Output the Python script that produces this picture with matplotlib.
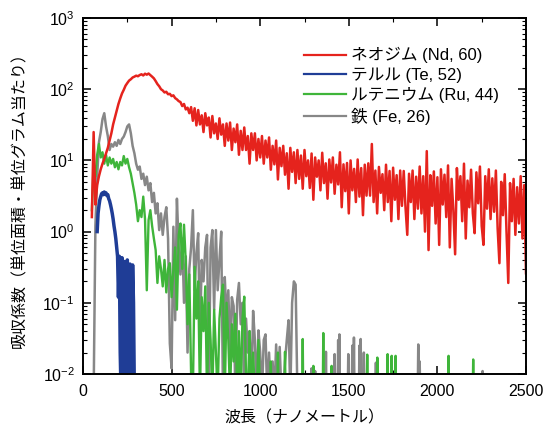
import numpy as np
import matplotlib
matplotlib.use('Agg')
import matplotlib.pyplot as plt
from matplotlib.ticker import MultipleLocator, LogLocator, NullFormatter

plt.rcParams['font.family'] = ['Liberation Sans', 'Noto Sans CJK JP']

# values, absorption coefficient vs wavelength (nm)
nd_nm = np.arange(50, 2501, 10)
nd_val = [1.6, 25, 2.4, 4.5, 6, 7.5, 9, 10.5, 12.5, 15,
          19, 24, 32, 40, 50, 62, 74, 87, 98, 112,
          122, 132, 138, 146, 150, 155, 152, 158, 162, 156,
          165, 160, 166, 158, 150, 142, 130, 118, 110, 100,
          96, 90, 92, 85, 86, 80, 82, 75, 72, 68,
          66, 58, 62, 52, 55, 46, 56, 36, 54, 31,
          51, 32, 43, 25, 46, 31, 40, 21, 42, 24,
          33, 20, 39, 23, 32, 16, 33, 19, 34, 14,
          28, 18, 32, 12, 26, 14, 29, 14, 22, 9,
          24, 14, 24, 10, 20, 11, 22, 9, 19, 11,
          21, 7.4, 16, 8.8, 19, 5.4, 15, 8.3, 16, 6.3,
          12.6, 4, 15, 6.9, 13, 4.8, 14, 5.5, 11.7, 4,
          14, 6, 10, 4.1, 12.5, 2.8, 11, 5.9, 10, 3.8,
          12.8, 4.8, 9.1, 2.9, 10.3, 4.9, 11, 3.4, 8.7, 4.6,
          13, 2.2, 8.8, 3.7, 9.2, 1.8, 10, 3.8, 7.6, 2.6,
          10.3, 3.1, 7.8, 1.7, 8.7, 3.2, 9.1, 3.2, 17, 2.6,
          7.2, 1.8, 8.1, 3.5, 6.4, 2.0, 8.7, 2.6, 7.1, 1.4,
          7.9, 2.8, 6.2, 1.5, 7.2, 2.3, 7.1, 2.2, 0.9, 6.5,
          2.6, 7.2, 1.5, 5.9, 2.1, 8.2, 1.8, 6.0, 1.0, 13.5,
          0.55, 6.2, 2.3, 7.0, 1.3, 5.8, 0.65, 7.5, 2.4, 6.3,
          1.6, 8.5, 0.6, 5.5, 2.0, 0.48, 7.8, 2.8, 6.0, 1.4,
          9.0, 0.8, 5.2, 2.2, 7.4, 1.8, 0.95, 6.8, 2.5, 8.2,
          1.2, 0.65, 6.0, 2.1, 7.5, 1.5, 5.6, 1.9, 7.2, 1.1,
          0.36, 5.0, 1.7, 6.4, 1.0, 0.19, 4.8, 1.4, 5.5, 0.9,
          4.2, 1.3, 6.0, 0.8, 4.5, 0.26]

te_nm = np.arange(80, 291, 5)
te_val = [1.0, 1.8, 2.3, 2.8, 3.1, 3.4, 3.5, 3.3, 3.6, 3.4,
          3.5, 3.2, 3.3, 2.9, 2.7, 2.4, 2.1, 1.8, 1.5, 1.2,
          1.0, 0.8, 0.6, 0.45, 0.12, 0.45, 0.02, 0.005, 0.43, 0.1,
          0.005, 0.38, 0.2, 0.005, 0.4, 0.05, 0.005, 0.35, 0.12, 0.005,
          0.34, 0.1, 0.005]

ru_nm = np.arange(50, 1001, 10)
ru_val = [2.0, 9, 6, 12, 17, 11, 13, 9, 12, 8.5,
          11, 9, 10.5, 8, 9.5, 7.5, 9.5, 8.5, 11.5, 9,
          10.5, 8, 6.5, 4.8, 3.5, 2.4, 1.4, 2.0, 1.6, 3.1,
          1.5, 0.15, 1.45, 2.0, 1.2, 0.8, 0.55, 0.19, 0.45, 0.3,
          0.17, 0.4, 0.14, 0.3, 0.36, 0.12, 0.29, 0.6, 0.08, 0.9,
          1.3, 0.3, 1.25, 0.37, 0.05, 0.25, 0.01, 0.005, 0.32, 0.06,
          0.2, 0.005, 0.12, 0.04, 0.17, 0.005, 0.1, 0.03, 0.005, 0.08,
          0.02, 0.005, 0.06, 0.12, 0.18, 0.005, 0.1, 0.03, 0.005, 0.05,
          0.015, 0.07, 0.005, 0.04, 0.005, 0.06, 0.122, 0.01, 0.005, 0.04,
          0.005, 0.02, 0.005, 0.005, 0.03, 0.005]
ru_spike_nm = [1060, 1100, 1140, 1240, 1300, 1356, 1403, 1604, 1661,
               1719, 1742, 1764, 2063, 2202]
ru_spike_val = [0.015, 0.02, 0.0205, 0.031, 0.013, 0.0376, 0.013, 0.0187,
                0.017, 0.019, 0.018, 0.018, 0.018, 0.016]

fe_nm = np.arange(50, 1251, 10)
fe_val = [0.005, 0.005, 1.2, 6, 18, 25, 38, 46, 30, 22,
          14, 17, 15.6, 18, 16, 19.4, 17, 20, 21.6, 25,
          30, 32, 24, 16, 12.6, 9, 7.4, 8.2, 5.5, 6.5,
          4.5, 5.9, 3.8, 4.8, 2.6, 3.5, 1.8, 2.5, 1.05, 1.8,
          0.9, 1.6, 2.2, 0.8, 0.027, 0.012, 1.17, 0.057, 2.9, 0.6,
          0.25, 0.8, 0.1, 0.45, 0.02, 0.3, 0.6, 2.0, 0.15, 0.5,
          0.95, 0.03, 0.4, 0.2, 0.6, 0.9, 0.005, 0.6, 1.05, 0.08,
          1.05, 0.15, 0.4, 1.0, 0.005, 0.23, 0.06, 0.15, 0.02, 0.12,
          0.09, 0.005, 0.11, 0.19, 0.05, 0.1, 0.005, 0.06, 0.02, 0.04,
          0.005, 0.077, 0.03, 0.005, 0.041, 0.02, 0.005, 0.03, 0.036, 0.005,
          0.02, 0.005, 0.015, 0.005, 0.026, 0.005, 0.024, 0.005, 0.005, 0.015,
          0.03, 0.057, 0.005, 0.1, 0.2, 0.18, 0.005, 0.005, 0.005, 0.005,
          0.005]
fe_spike_nm = [1290, 1310, 1371, 1420, 1440, 1447, 1497, 1520, 1529,
               1560, 1567, 1585, 1653, 1892, 1900, 2255]
fe_spike_val = [0.012, 0.011, 0.0205, 0.019, 0.03, 0.036, 0.019, 0.025,
                0.0325, 0.025, 0.031, 0.02, 0.0144, 0.026, 0.015, 0.011]

labels = ['ネオジム (Nd, 60)', 'テルル (Te, 52)', 'ルテニウム (Ru, 44)', '鉄 (Fe, 26)']
colors = ['#e5231d', '#1f3d96', '#3fb53a', '#878787']


def add_spikes(nm, val, spike_nm, spike_val, floor=0.005):
    x = list(nm)
    y = list(val)
    for s, v in zip(spike_nm, spike_val):
        x += [s - 3, s, s + 3]
        y += [floor, v, floor]
    return x, y


fe_x, fe_y = add_spikes(fe_nm, fe_val, fe_spike_nm, fe_spike_val)
ru_x, ru_y = add_spikes(ru_nm, ru_val, ru_spike_nm, ru_spike_val)

fig = plt.figure(figsize=(5.46, 4.37), dpi=100)
ax = fig.add_axes([83 / 546, 63 / 437, 443 / 546, 356 / 437])

h_fe, = ax.plot(fe_x, fe_y, color=colors[3], lw=1.8)
h_ru, = ax.plot(ru_x, ru_y, color=colors[2], lw=1.7)
h_te, = ax.plot(te_nm, te_val, color=colors[1], lw=2.5)
h_nd, = ax.plot(nd_nm, nd_val, color=colors[0], lw=1.8)

ax.set_yscale('log')
ax.set_xlim(0, 2500)
ax.set_ylim(1e-2, 1e3)
ax.xaxis.set_major_locator(MultipleLocator(500))
ax.xaxis.set_minor_locator(MultipleLocator(250))
ax.yaxis.set_minor_locator(LogLocator(base=10, subs=np.arange(2, 10)))
ax.yaxis.set_minor_formatter(NullFormatter())
ax.tick_params(which='both', direction='in', top=True, right=True, labelsize=11.5)
ax.tick_params(which='major', length=6, width=1.1)
ax.tick_params(which='minor', length=3, width=0.8)
ax.tick_params(axis='x', pad=7)
ax.tick_params(axis='y', pad=6)
for sp in ax.spines.values():
    sp.set_linewidth(1.4)

leg = ax.legend([h_nd, h_te, h_ru, h_fe], labels, loc='upper left',
                bbox_to_anchor=(0.465, 0.96), frameon=False, fontsize=12,
                handlelength=2.5, handletextpad=0.3, labelspacing=0.25)
for line in leg.get_lines():
    line.set_linewidth(1.6)

fig.text(0.557, 0.043, '波長（ナノメートル）', ha='center', va='center', fontsize=11.5)
fig.text(0.036, 0.552, '吸収係数（単位面積・単位グラム当たり）', ha='center', va='center',
         rotation=90, fontsize=11.5)

fig.savefig('out.png', dpi=100)
